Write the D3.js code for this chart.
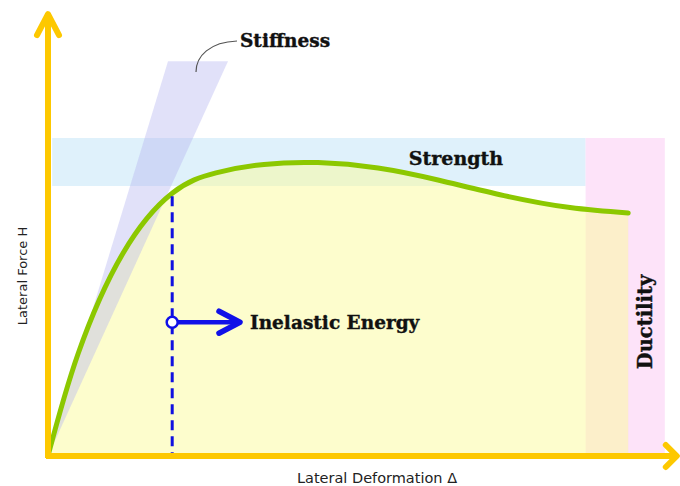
<!DOCTYPE html>
<html>
<head>
<meta charset="utf-8">
<script src="https://cdn.jsdelivr.net/npm/d3@7"></script>
<style>
  body { margin: 0; background: #fff; }
  svg { display: block; }
  .tag { font-family: "DejaVu Serif", serif; font-weight: bold; fill: #111; stroke: #111; stroke-width: 0.4px; }
  .axlabel { font-family: "DejaVu Sans", sans-serif; fill: #222; }
</style>
</head>
<body>
<svg width="680" height="486"></svg>
<script>
// pushover curve (arbitrary units)
const deformation = [0, 5, 12.5, 20.7, 28, 36, 45, 55, 65, 76, 87, 96.7];
const force       = [0, 17, 33.8, 43.8, 47.2, 48.6, 48.9, 48.0, 46.0, 43.4, 41.4, 40.5];

// shaded regions
const strengthBand = [0.7, 89.6, 45, 53];     // d0, d1, f0, f1
const ductilityBand = [89.6, 102.8, 0, 53];
const stiffnessWedge = [[0, 0], [20, 65.8], [30, 65.8]];

// yield point and inelastic energy marker
const yieldDef = 20.7;
const yieldForce = 43.8;
const markerForce = 22.3;
const arrowEnd = 32;

const axisMax = [105.3, 73.8];

const svg = d3.select("svg");
const x = d3.scaleLinear().domain([0, 105]).range([48, 678]);
const y = d3.scaleLinear().domain([0, 75]).range([456, 6]);

const pts = deformation.map((d, i) => [d, force[i]]);
const smooth = d3.curveNatural;

// strength band
svg.append("rect")
  .attr("x", x(strengthBand[0]))
  .attr("y", y(strengthBand[3]))
  .attr("width", x(strengthBand[1]) - x(strengthBand[0]))
  .attr("height", y(strengthBand[2]) - y(strengthBand[3]))
  .attr("fill", "#dff1fb");

// ductility band
svg.append("rect")
  .attr("x", x(ductilityBand[0]))
  .attr("y", y(ductilityBand[3]))
  .attr("width", x(ductilityBand[1]) - x(ductilityBand[0]))
  .attr("height", y(ductilityBand[2]) - y(ductilityBand[3]))
  .attr("fill", "#fde3f9");

// energy area under the curve
const area = d3.area()
  .x(d => x(d[0]))
  .y0(y(0))
  .y1(d => y(d[1]))
  .curve(smooth);

svg.append("path")
  .datum(pts)
  .attr("d", area)
  .attr("fill", "#fcfb9c")
  .attr("opacity", 0.5);

// stiffness wedge
svg.append("path")
  .datum(stiffnessWedge)
  .attr("d", d3.line().x(d => x(d[0])).y(d => y(d[1])))
  .attr("fill", "#b4b4f0")
  .attr("opacity", 0.4);

// curve
svg.append("path")
  .datum(pts)
  .attr("d", d3.line().x(d => x(d[0])).y(d => y(d[1])).curve(smooth))
  .attr("fill", "none")
  .attr("stroke", "#8cc800")
  .attr("stroke-width", 5)
  .attr("stroke-linecap", "round");

// yield dashed line
svg.append("line")
  .attr("x1", x(yieldDef)).attr("x2", x(yieldDef))
  .attr("y1", y(yieldForce) + 3).attr("y2", y(0))
  .attr("stroke", "#1010e0")
  .attr("stroke-width", 3)
  .attr("stroke-dasharray", "10,6");

// arrow to the right
const blue = "#1010e8";
svg.append("line")
  .attr("x1", x(yieldDef)).attr("x2", x(arrowEnd) - 2)
  .attr("y1", y(markerForce)).attr("y2", y(markerForce))
  .attr("stroke", blue).attr("stroke-width", 4.5);
svg.append("path")
  .attr("d", `M${x(arrowEnd) - 21},${y(markerForce) - 11} L${x(arrowEnd)},${y(markerForce)} L${x(arrowEnd) - 21},${y(markerForce) + 11}`)
  .attr("fill", "none").attr("stroke", blue).attr("stroke-width", 5.5)
  .attr("stroke-linecap", "round").attr("stroke-linejoin", "round");
svg.append("circle")
  .attr("cx", x(yieldDef)).attr("cy", y(markerForce)).attr("r", 5.5)
  .attr("fill", "#fff").attr("stroke", blue).attr("stroke-width", 2.5);

// axes
const gold = "#fdc800";
svg.append("line")
  .attr("x1", x(0)).attr("y1", y(0) + 2).attr("x2", x(0)).attr("y2", y(axisMax[1]))
  .attr("stroke", gold).attr("stroke-width", 6);
svg.append("line")
  .attr("x1", x(0) - 2).attr("y1", y(0)).attr("x2", x(axisMax[0]) - 2).attr("y2", y(0))
  .attr("stroke", gold).attr("stroke-width", 6);
svg.append("path")
  .attr("d", `M${x(0) - 11},${y(axisMax[1]) + 22} L${x(0)},${y(axisMax[1]) + 1} L${x(0) + 11},${y(axisMax[1]) + 22}`)
  .attr("fill", "none").attr("stroke", gold).attr("stroke-width", 6)
  .attr("stroke-linecap", "round").attr("stroke-linejoin", "round");
svg.append("path")
  .attr("d", `M${x(axisMax[0]) - 14},${y(0) - 11} L${x(axisMax[0]) - 3},${y(0)} L${x(axisMax[0]) - 14},${y(0) + 11}`)
  .attr("fill", "none").attr("stroke", gold).attr("stroke-width", 6)
  .attr("stroke-linecap", "round").attr("stroke-linejoin", "round");

// stiffness callout
svg.append("path")
  .attr("d", "M196,72 C196,56 210,42 237,41")
  .attr("fill", "none").attr("stroke", "#555").attr("stroke-width", 1.2);

// labels
svg.append("text").attr("class", "tag").attr("x", 240).attr("y", 47)
  .attr("font-size", 18.5).text("Stiffness");
svg.append("text").attr("class", "tag").attr("x", 456).attr("y", 165)
  .attr("text-anchor", "middle").attr("font-size", 19).text("Strength");
svg.append("text").attr("class", "tag").attr("x", 250).attr("y", 329)
  .attr("font-size", 18.5).text("Inelastic Energy");
svg.append("text").attr("class", "tag")
  .attr("transform", "translate(652,322) rotate(-90)")
  .attr("text-anchor", "middle").attr("font-size", 19.5).text("Ductility");

svg.append("text").attr("class", "axlabel")
  .attr("transform", "translate(27,276) rotate(-90)")
  .attr("text-anchor", "middle").attr("font-size", 13).text("Lateral Force H");
svg.append("text").attr("class", "axlabel")
  .attr("x", 377).attr("y", 483)
  .attr("text-anchor", "middle").attr("font-size", 14.5).text("Lateral Deformation Δ");
</script>
</body>
</html>
